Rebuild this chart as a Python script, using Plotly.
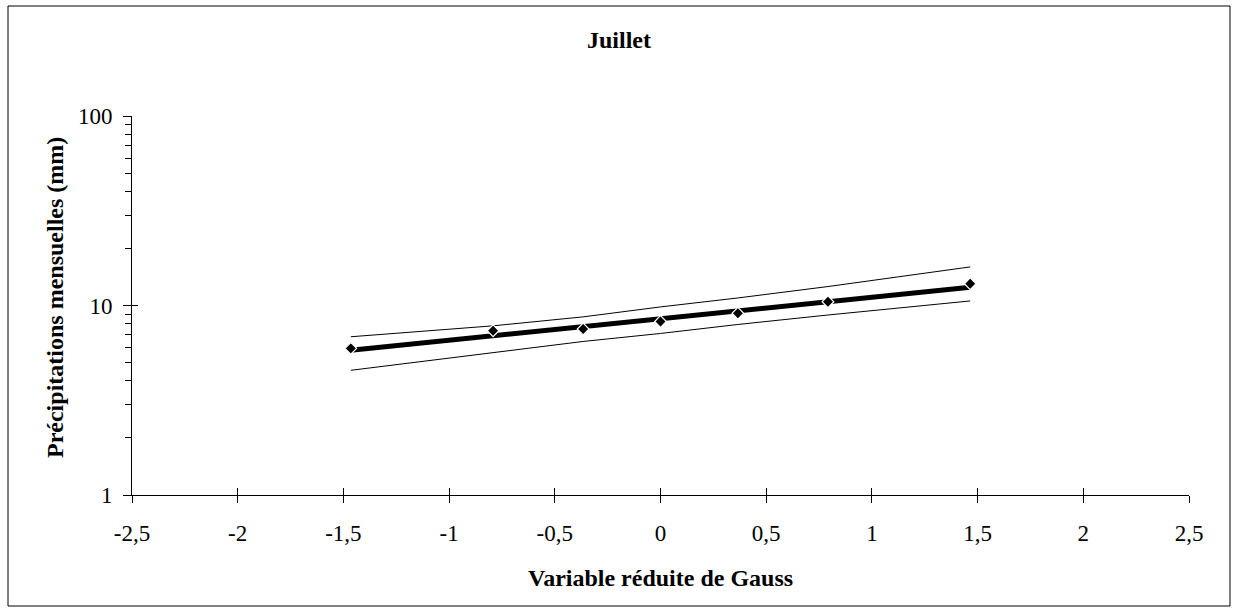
import plotly.graph_objects as go

# Gauss reduced variable (x) for the 7 observations
gauss_u = [-1.465, -0.792, -0.366, 0.0, 0.366, 0.792, 1.465]
# Observed monthly precipitation (mm)
observed = [5.94, 7.36, 7.52, 8.23, 9.10, 10.47, 13.03]
# Fitted log-normal line (mm)
fitted = [5.80, 6.92, 7.73, 8.45, 9.37, 10.47, 12.49]
# Confidence bounds (mm)
upper = [6.84, 7.81, 8.71, 9.83, 10.96, 12.59, 15.98]
lower = [4.55, 5.66, 6.46, 7.12, 7.94, 8.91, 10.57]

x_ticks = [-2.5, -2, -1.5, -1, -0.5, 0, 0.5, 1, 1.5, 2, 2.5]
x_ticktext = ["-2,5", "-2", "-1,5", "-1", "-0,5", "0", "0,5", "1", "1,5", "2", "2,5"]
y_ticks = [1, 10, 100]
y_ticktext = ["1", "10", "100"]
y_minor = [2, 3, 4, 5, 6, 7, 8, 9, 20, 30, 40, 50, 60, 70, 80, 90]

title_text = "Juillet"
x_title = "Variable réduite de Gauss"
y_title = "Précipitations mensuelles (mm)"

FONT = "Liberation Serif, Times New Roman, serif"

fig = go.Figure()
fig.add_trace(go.Scatter(x=gauss_u, y=upper, mode="lines",
                         line=dict(color="black", width=1), showlegend=False))
fig.add_trace(go.Scatter(x=gauss_u, y=lower, mode="lines",
                         line=dict(color="black", width=1), showlegend=False))
fig.add_trace(go.Scatter(x=gauss_u, y=fitted, mode="lines",
                         line=dict(color="black", width=5), showlegend=False))
fig.add_trace(go.Scatter(x=gauss_u, y=observed, mode="markers",
                         marker=dict(symbol="diamond", size=9, color="black",
                                     line=dict(color="white", width=1.2)),
                         showlegend=False))

W, H = 1234, 612
L, R, T, B = 132, 45, 116, 117
pw, ph = W - L - R, H - T - B

def px_to_paper_x(px):
    return (px - L) / pw

def px_to_paper_y(py):
    return (H - B - py) / ph

fig.update_layout(
    width=W, height=H,
    margin=dict(l=L, r=R, t=T, b=B),
    paper_bgcolor="white", plot_bgcolor="white",
    font=dict(family=FONT, size=23, color="black"),
    xaxis=dict(range=[-2.5, 2.5], tickmode="array", tickvals=x_ticks, ticktext=x_ticktext,
               showgrid=False, zeroline=False, showline=True, linecolor="black", linewidth=1,
               ticks="outside", ticklen=7, tickcolor="black", tickwidth=1,
               ticklabelstandoff=10, fixedrange=True),
    yaxis=dict(type="log", range=[0, 2], tickmode="array", tickvals=y_ticks, ticktext=y_ticktext,
               showgrid=False, zeroline=False, showline=True, linecolor="black", linewidth=1,
               ticks="outside", ticklen=8, tickcolor="black", tickwidth=1,
               ticklabelstandoff=6,
               minor=dict(tickmode="array", tickvals=y_minor, ticks="outside", ticklen=6,
                          tickcolor="black", tickwidth=1, showgrid=False),
               fixedrange=True),
    xaxis2=dict(range=[-2.5, 2.5], overlaying="x", tickmode="array", tickvals=x_ticks,
                showticklabels=False, showgrid=False, zeroline=False, showline=False,
                ticks="inside", ticklen=7, tickcolor="black", side="bottom", anchor="y",
                fixedrange=True),
    yaxis2=dict(type="log", range=[0, 2], overlaying="y", tickmode="array", tickvals=y_ticks,
                showticklabels=False, showgrid=False, zeroline=False, showline=False,
                ticks="inside", ticklen=6, tickcolor="black", side="left", anchor="x",
                fixedrange=True),
    shapes=[dict(type="rect", xref="paper", yref="paper",
                 x0=px_to_paper_x(8), x1=px_to_paper_x(1230),
                 y0=px_to_paper_y(606), y1=px_to_paper_y(6),
                 line=dict(color="black", width=1), fillcolor="rgba(0,0,0,0)")],
    annotations=[
        dict(text="<b>%s</b>" % title_text, xref="paper", yref="paper",
             x=px_to_paper_x(619), y=px_to_paper_y(40), showarrow=False,
             xanchor="center", yanchor="middle", font=dict(size=24)),
        dict(text="<b>%s</b>" % x_title, xref="paper", yref="paper",
             x=px_to_paper_x(660), y=px_to_paper_y(578), showarrow=False,
             xanchor="center", yanchor="middle", font=dict(size=24)),
        dict(text="<b>%s</b>" % y_title, xref="paper", yref="paper",
             x=px_to_paper_x(55), y=px_to_paper_y(298), showarrow=False,
             xanchor="center", yanchor="middle", textangle=-90, font=dict(size=24)),
    ],
)
# dummy trace on the overlay axes so they are drawn
fig.add_trace(go.Scatter(x=[None], y=[None], xaxis="x2", yaxis="y2", showlegend=False,
                         hoverinfo="skip"))

fig.write_html("out.html", config={"displayModeBar": False},
               post_script="document.body.style.margin='0';")
